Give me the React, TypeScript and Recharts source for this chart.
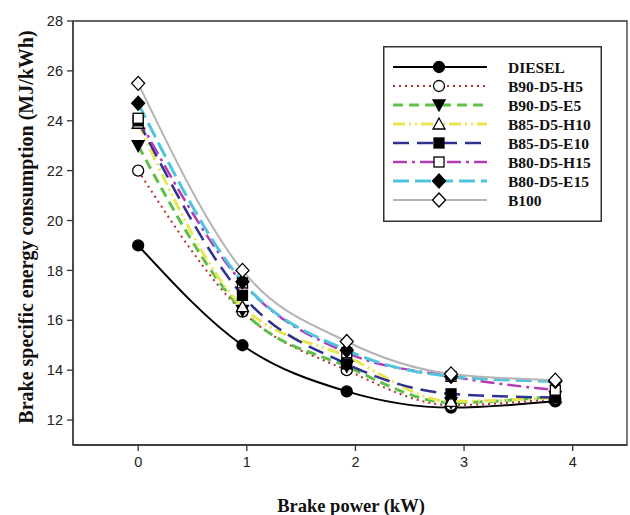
import { LineChart, Line, XAxis, YAxis, Legend, ReferenceArea, Label } from 'recharts'

const power = [0, 0.96, 1.92, 2.88, 3.84]
const diesel = [19.0, 15.0, 13.15, 12.5, 12.75]
const b90h5 = [22.0, 16.35, 14.0, 12.6, 12.85]
const b90e5 = [23.0, 16.4, 14.15, 12.7, 12.95]
const b85h10 = [23.9, 16.55, 14.55, 12.75, 12.9]
const b85e10 = [24.0, 17.0, 14.25, 13.05, 12.9]
const b80h15 = [24.1, 17.5, 14.7, 13.75, 13.2]
const b80e15 = [24.7, 17.55, 14.8, 13.75, 13.55]
const b100 = [25.5, 18.0, 15.15, 13.85, 13.6]

const xTicks = [0, 1, 2, 3, 4]
const yTicks = [12, 14, 16, 18, 20, 22, 24, 26, 28]

type Shape = 'circle' | 'circleOpen' | 'triDown' | 'triUpOpen' | 'square' | 'squareOpen' | 'diamond' | 'diamondOpen'

const series: { key: string; name: string; values: number[]; color: string; width: number; dash?: string; shape: Shape }[] = [
  { key: 'diesel', name: 'DIESEL', values: diesel, color: '#000000', width: 2, shape: 'circle' },
  { key: 'b90h5', name: 'B90-D5-H5', values: b90h5, color: '#b5302b', width: 2, dash: '2 4', shape: 'circleOpen' },
  { key: 'b90e5', name: 'B90-D5-E5', values: b90e5, color: '#5cbf48', width: 3, dash: '10 6', shape: 'triDown' },
  { key: 'b85h10', name: 'B85-D5-H10', values: b85h10, color: '#e8e650', width: 3, dash: '12 4 2 4 2 4', shape: 'triUpOpen' },
  { key: 'b85e10', name: 'B85-D5-E10', values: b85e10, color: '#2e3192', width: 2.5, dash: '16 8', shape: 'square' },
  { key: 'b80h15', name: 'B80-D5-H15', values: b80h15, color: '#b23cb8', width: 2.5, dash: '14 5 3 5', shape: 'squareOpen' },
  { key: 'b80e15', name: 'B80-D5-E15', values: b80e15, color: '#50c4dc', width: 3, dash: '16 6', shape: 'diamond' },
  { key: 'b100', name: 'B100', values: b100, color: '#b4b4b4', width: 2, shape: 'diamondOpen' },
]

const data = power.map((p, i) => {
  const row: Record<string, number> = { power: p }
  series.forEach((s) => { row[s.key] = s.values[i] })
  return row
})

function Marker({ cx, cy, shape }: { cx: number; cy: number; shape: Shape }) {
  const open = shape.endsWith('Open')
  const fill = open ? '#fff' : '#000'
  const common = { fill, stroke: '#000', strokeWidth: 1.3 }
  if (shape === 'circle' || shape === 'circleOpen') return <circle cx={cx} cy={cy} r={5.5} {...common} />
  if (shape === 'triDown') return <polygon points={`${cx - 6},${cy - 5} ${cx + 6},${cy - 5} ${cx},${cy + 6}`} {...common} />
  if (shape === 'triUpOpen') return <polygon points={`${cx - 6},${cy + 5} ${cx + 6},${cy + 5} ${cx},${cy - 6}`} {...common} />
  if (shape === 'square' || shape === 'squareOpen') return <rect x={cx - 5} y={cy - 5} width={10} height={10} {...common} />
  return <polygon points={`${cx},${cy - 7} ${cx + 6.5},${cy} ${cx},${cy + 7} ${cx - 6.5},${cy}`} {...common} />
}

function LegendBox() {
  return (
    <svg width={219} height={176} style={{ display: 'block' }}>
      <rect x={0.75} y={0.75} width={217.5} height={174.5} fill="#fff" stroke="#333" strokeWidth={1.5} />
      {series.map((s, i) => {
        const y = 21 + i * 19
        return (
          <g key={s.key}>
            <line x1={10} x2={104} y1={y} y2={y} stroke={s.color} strokeWidth={s.width} strokeDasharray={s.dash} />
            <Marker cx={56} cy={y} shape={s.shape} />
            <text x={125} y={y} dominantBaseline="central" fontFamily="'Liberation Serif', serif" fontWeight="bold" fontSize={15.5} fill="#111">
              {s.name}
            </text>
          </g>
        )
      })}
    </svg>
  )
}

const tickStyle = { fontFamily: "'Liberation Sans', Arial, sans-serif", fontSize: 14.5, fill: '#222' }

export default function App() {
  return (
    <div style={{ position: 'absolute', left: 0, top: 0, background: '#fff' }}>
      <LineChart width={630} height={515} data={data} margin={{ top: 21, right: 3, bottom: 40, left: 0 }}>
        <ReferenceArea x1={-0.6} x2={4.5} y1={11} y2={28} fill="none" stroke="#333" strokeWidth={1.3} ifOverflow="visible" />
        <XAxis
          dataKey="power"
          type="number"
          domain={[-0.6, 4.5]}
          ticks={xTicks}
          allowDataOverflow
          height={30}
          tickSize={6}
          tickLine={{ stroke: '#333', strokeWidth: 1.3 }}
          axisLine={{ stroke: '#333', strokeWidth: 1.3 }}
          tick={tickStyle}
          tickMargin={6}
        >
          <Label
            content={() => (
              <text x={351} y={506} textAnchor="middle" dominantBaseline="central" fontFamily="'Liberation Serif', serif" fontWeight="bold" fontSize={18.5} fill="#111">
                Brake power (kW)
              </text>
            )}
          />
        </XAxis>
        <YAxis
          type="number"
          domain={[11, 28]}
          ticks={yTicks}
          allowDataOverflow
          width={73}
          tickSize={6}
          tickLine={{ stroke: '#333', strokeWidth: 1.3 }}
          axisLine={{ stroke: '#333', strokeWidth: 1.3 }}
          tick={tickStyle}
          tickMargin={4}
        >
          <Label
            content={() => (
              <text x={26} y={227} transform="rotate(-90 26 227)" textAnchor="middle" dominantBaseline="central" fontFamily="'Liberation Serif', serif" fontWeight="bold" fontSize={20} fill="#111">
                Brake specific energy consumption (MJ/kWh)
              </text>
            )}
          />
        </YAxis>
        {series.map((s) => (
          <Line
            key={s.key}
            dataKey={s.key}
            name={s.name}
            type="monotone"
            stroke={s.color}
            strokeWidth={s.width}
            strokeDasharray={s.dash}
            isAnimationActive={false}
            dot={(p: any) => <Marker key={`${s.key}-${p.index}`} cx={p.cx} cy={p.cy} shape={s.shape} />}
            activeDot={false}
          />
        ))}
        <Legend
          layout="vertical"
          align="center"
          verticalAlign="middle"
          content={() => <LegendBox />}
          wrapperStyle={{ left: 383, top: 46, width: 219, height: 176 }}
        />
      </LineChart>
    </div>
  )
}
